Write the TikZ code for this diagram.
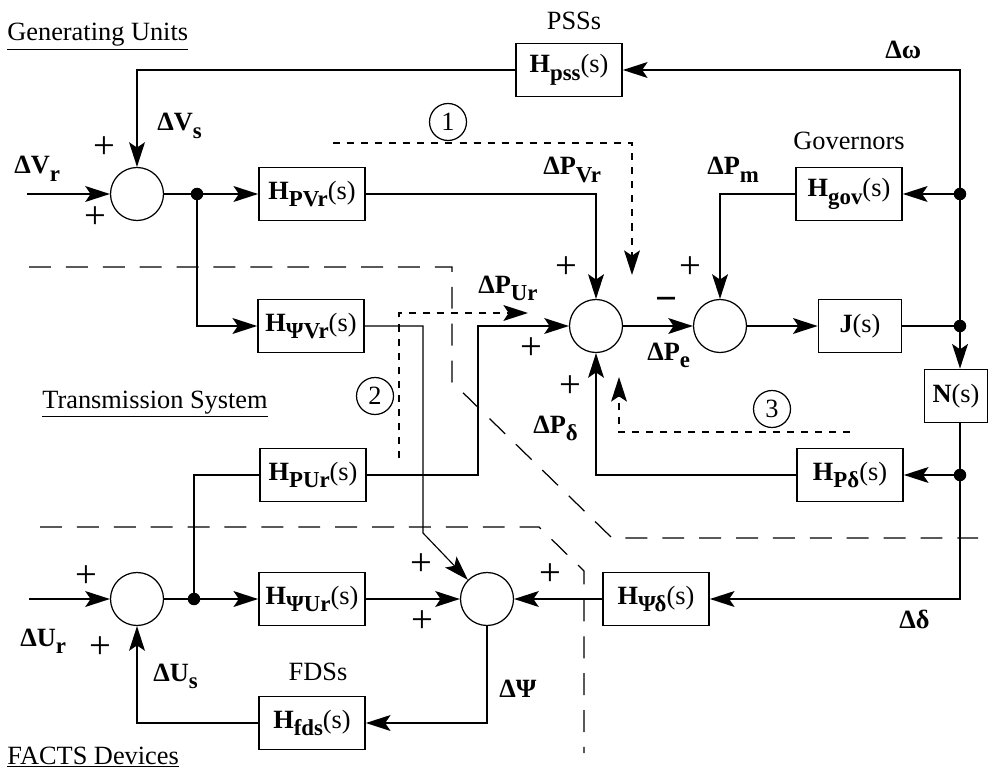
\documentclass[tikz,border=0pt]{standalone}
\usepackage{fontspec}
\setmainfont{Liberation Serif}
\usepackage{tikz}
\usetikzlibrary{arrows.meta, positioning}

% signal name with a lowered bold subscript
\newcommand{\sig}[2]{\textbf{#1}\raisebox{-4.5pt}{\fontsize{13}{13}\selectfont\bfseries #2}}
% transfer function block text
\newcommand{\tf}[2]{\sig{#1}{#2}(s)}

\tikzset{
  blk/.style={draw, line width=1pt, minimum width=2.12cm, minimum height=1.06cm,
              inner sep=0pt, font=\fontsize{15}{18}\selectfont},
  sum/.style={draw, circle, line width=0.7pt, minimum size=1.06cm, inner sep=0pt},
  jdot/.style={circle, fill, inner sep=0pt, minimum size=0.25cm},
  wire/.style={line width=1.05pt},
  thinwire/.style={line width=0.65pt},
  loopline/.style={line width=0.8pt, dash pattern=on 4pt off 4pt},
  border/.style={line width=0.7pt, dash pattern=on 12.5pt off 8.5pt},
  lbl/.style={font=\fontsize{15}{18}\selectfont, inner sep=0pt},
  pm/.style={font=\fontsize{22}{22}\selectfont, inner sep=0pt},
  loopnum/.style={draw, circle, line width=0.7pt, minimum size=0.74cm, inner sep=0pt,
                  font=\fontsize{15}{18}\selectfont}
}

\begin{document}
\begin{tikzpicture}[>={Stealth[length=14pt, width=9pt, inset=3pt]}, x=0.02cm, y=-0.02cm]

    \useasboundingbox (0,0) rectangle (989,773);

    % =================================================================
    % 1. MAIN POINTS
    % =================================================================
    \coordinate (Vr) at (27,194);
    \coordinate (Ur) at (29,599);
    \coordinate (PsiBend) at (423,533);
    \coordinate (PUrBend) at (478,400);

    % =================================================================
    % 2. SUMMING JUNCTIONS AND BLOCKS
    % =================================================================
    \node[sum] (S1) at (137,194) {};
    \node[sum] (S2) at (596,326) {};
    \node[sum] (S3) at (720,326) {};
    \node[sum] (S4) at (137,599) {};
    \node[sum] (S5) at (487,599) {};

    \node[blk] (Hpss) at (569,70) {\tf{H}{pss}};
    \node[blk] (HPVr) at (312,194) {\tf{H}{PVr}};
    \node[blk] (Hgov) at (849,194) {\tf{H}{gov}};
    \node[blk] (HPsiVr) at (311,326) {\tf{H}{ΨVr}};
    \node[blk, minimum width=1.66cm] (J) at (860,326) {\textbf{J}(s)};
    \node[blk, minimum width=1.26cm] (N) at (956,396) {\textbf{N}(s)};
    \node[blk] (HPUr) at (313,475) {\tf{H}{PUr}};
    \node[blk] (HPd) at (850,475) {\tf{H}{Pδ}};
    \node[blk] (HPsiUr) at (312,599) {\tf{H}{ΨUr}};
    \node[blk] (HPsid) at (656,599) {\tf{H}{Ψδ}};
    \node[blk] (Hfds) at (312,723) {\tf{H}{fds}};

    % branch points
    \node[jdot] (Vdot) at (197,194) {};
    \node[jdot] (Gdot) at (960,194) {};
    \node[jdot] (Jdot) at (960,326) {};
    \node[jdot] (Pdot) at (960,475) {};
    \node[jdot] (Udot) at (194,599) {};

    % =================================================================
    % 3. SIGNAL LINES
    % =================================================================
    % voltage regulator loop
    \draw[wire, ->] (Vr) -- (S1.west);
    \draw[wire] (S1.east) -- (Vdot.center);
    \draw[wire, ->] (Vdot.center) -- (HPVr.west);
    \draw[wire, ->] (Vdot.center) |- (HPsiVr.west);
    \draw[wire, ->] (HPVr.east) -| (S2.north);
    \draw[wire, ->] (Hpss.west) -| (S1.north);

    % speed and angle feedback
    \draw[wire, ->] (Jdot.center) |- (Hpss.east);
    \draw[wire, ->] (Gdot.center) -- (Hgov.east);
    \draw[wire, ->] (Hgov.west) -| (S3.north);
    \draw[wire, ->] (S2.east) -- (S3.west);
    \draw[wire, ->] (S3.east) -- (J.west);
    \draw[wire] (J.east) -- (Jdot.center);
    \draw[wire, ->] (Jdot.center) -- (Jdot |- N.north);
    \draw[wire] (Jdot |- N.south) -- (Pdot.center);
    \draw[wire, ->] (Pdot.center) -- (HPd.east);
    \draw[wire, ->] (Pdot.center) |- (HPsid.east);
    \draw[wire, ->] (HPd.west) -| (S2.south);

    % FACTS loop
    \draw[wire, ->] (HPUr.east) -| (PUrBend) |- (S2.west);
    \draw[wire] (HPUr.west) -| (Udot.center);
    \draw[wire, ->] (Ur) -- (S4.west);
    \draw[wire] (S4.east) -- (Udot.center);
    \draw[wire, ->] (Udot.center) -- (HPsiUr.west);
    \draw[wire, ->] (HPsiUr.east) -- (S5.west);
    \draw[wire, ->] (HPsid.west) -- (S5.east);
    \draw[wire, ->] (S5.south) |- (Hfds.east);
    \draw[wire, ->] (Hfds.west) -| (S4.south);
    \draw[thinwire, ->] (HPsiVr.east) -| (PsiBend) -- (S5.north west);

    % =================================================================
    % 4. SUBSYSTEM BORDERS AND INTERACTION PATHS
    % =================================================================
    \draw[border] (29,267) -- (452,267) -- (452,382) -- (612,538) -- (978,538);
    \draw[border] (40,527) -- (539,527) -- (584,571) -- (584,753);

    \draw[loopline, ->] (333,143) -- (632,143) -- (632,275);
    \draw[loopline, ->] (399,458) -- (399,313) -- (528,313);
    \draw[loopline, ->] (850,432) -- (619,432) -- (619,377);

    \node[loopnum] (L1) at (448,122) {1};
    \node[loopnum] (L2) at (375,396) {2};
    \node[loopnum] (L3) at (772,409) {3};

    % =================================================================
    % 5. LABELS
    % =================================================================
    \node[lbl, anchor=base west] (GenU) at (7,41) {\underline{Generating Units}};
    \node[lbl, anchor=base west] (TrS) at (42,408) {\underline{Transmission System}};
    \node[lbl, anchor=base west] (FacD) at (7,764) {\underline{FACTS Devices}};
    \node[lbl, anchor=base] (PSSs) at (574,30) {PSSs};
    \node[lbl, anchor=base] (Gov) at (849,150) {Governors};
    \node[lbl, anchor=base] (FDSs) at (318,680) {FDSs};

    \node[lbl, anchor=base west] (dVs) at (157,131) {\sig{ΔV}{s}};
    \node[lbl, anchor=base west] (dVr) at (14,174) {\sig{ΔV}{r}};
    \node[lbl, anchor=base west] (dPVr) at (543,175) {\sig{ΔP}{Vr}};
    \node[lbl, anchor=base west] (dPm) at (707,175) {\sig{ΔP}{m}};
    \node[lbl, anchor=base west] (dw) at (885,59) {\textbf{Δω}};
    \node[lbl, anchor=base west] (dPUr) at (478,293) {\sig{ΔP}{Ur}};
    \node[lbl, anchor=base west] (dPe) at (647,360) {\sig{ΔP}{e}};
    \node[lbl, anchor=base west] (dPd) at (533,433) {\sig{ΔP}{δ}};
    \node[lbl, anchor=base west] (dUr) at (20,646) {\sig{ΔU}{r}};
    \node[lbl, anchor=base west] (dUs) at (153,681) {\sig{ΔU}{s}};
    \node[lbl, anchor=base west] (dPsi) at (499,697) {\textbf{ΔΨ}};
    \node[lbl, anchor=base west] (dd) at (899,628) {\textbf{Δδ}};

    % signs at the summing junctions
    \node[pm] (p1) at (104,148) {+};
    \node[pm] (p2) at (95,218) {+};
    \node[pm] (p3) at (566,268) {+};
    \node[pm] (p4) at (690,268) {+};
    \node[pm] (p5) at (531,349) {+};
    \node[pm] (p6) at (570,387) {+};
    \node[pm] (p7) at (86,577) {+};
    \node[pm] (p8) at (100,648) {+};
    \node[pm] (p9) at (421,565) {+};
    \node[pm] (p10) at (422,622) {+};
    \node[pm] (p11) at (550,575) {+};
    \node[pm, font=\fontsize{22}{22}\selectfont\bfseries] (m1) at (666,304) {−};

\end{tikzpicture}
\end{document}
